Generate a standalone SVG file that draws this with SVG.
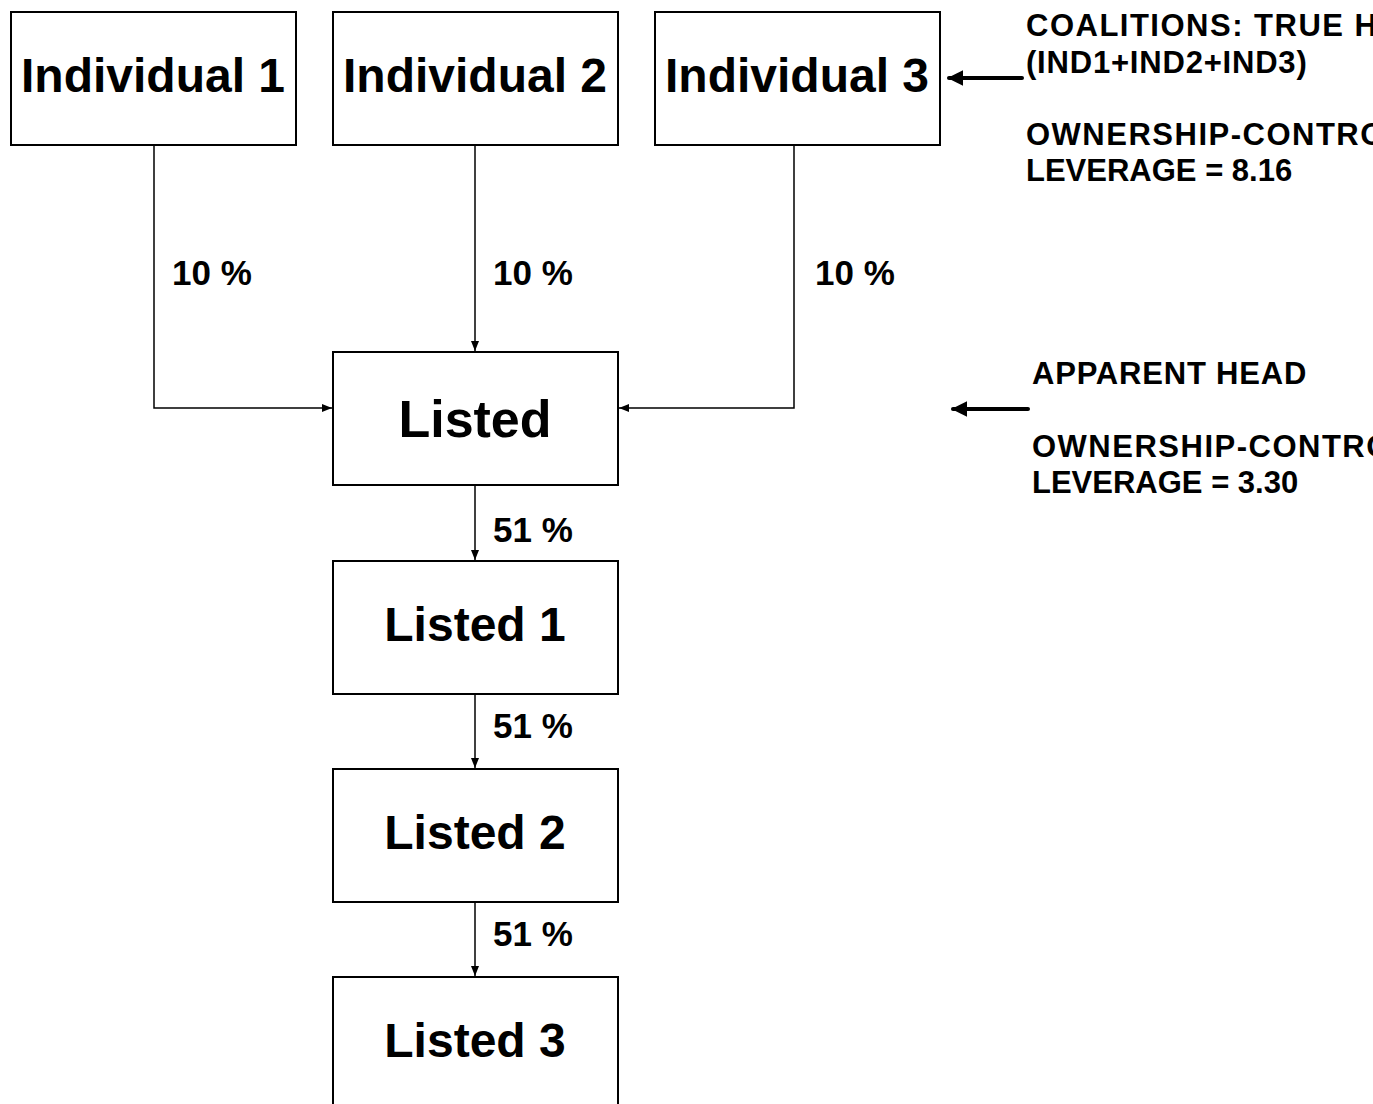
<svg xmlns="http://www.w3.org/2000/svg" width="1373" height="1104" viewBox="0 0 1373 1104">
<style>
.box{fill:#fff;stroke:#000;stroke-width:2}
.big{font-family:"Liberation Sans",Arial,sans-serif;font-weight:bold;font-size:48px;text-anchor:middle;fill:#000}
.pct{font-family:"Liberation Sans",Arial,sans-serif;font-weight:bold;font-size:35px;fill:#000}
.note{font-family:"Liberation Sans",Arial,sans-serif;font-weight:bold;font-size:31px;fill:#000}
.wide{letter-spacing:1.5px}
.mid{letter-spacing:0.8px}
.conn{fill:none;stroke:#000;stroke-width:1.5}
.thick{fill:none;stroke:#000;stroke-width:4;stroke-linecap:round}
</style>
<defs>
<marker id="ah" viewBox="0 0 10 10" refX="10" refY="5" markerWidth="10" markerHeight="10" markerUnits="userSpaceOnUse" orient="auto">
<path d="M0,1 L10,5 L0,9 Z" fill="#000"/>
</marker>
<marker id="ahb" viewBox="0 0 10 10" refX="9" refY="5" markerWidth="4" markerHeight="4" orient="auto">
<path d="M0,0 L10,5 L0,10 Z" fill="#000"/>
</marker>
</defs>
<rect width="1373" height="1104" fill="#fff"/>
<g id="connectors">
<path class="conn" d="M154,145 V408 H332" marker-end="url(#ah)"/>
<path class="conn" d="M475,145 V351" marker-end="url(#ah)"/>
<path class="conn" d="M794,145 V408 H619" marker-end="url(#ah)"/>
<path class="conn" d="M475,485 V560" marker-end="url(#ah)"/>
<path class="conn" d="M475,694 V768" marker-end="url(#ah)"/>
<path class="conn" d="M475,902 V976" marker-end="url(#ah)"/>
<path class="thick" d="M1022,78 H949" marker-end="url(#ahb)"/>
<path class="thick" d="M1028,409 H953" marker-end="url(#ahb)"/>
<text class="pct" x="172" y="285">10 %</text>
<text class="pct" x="493" y="285">10 %</text>
<text class="pct" x="815" y="285">10 %</text>
<text class="pct" x="493" y="542">51 %</text>
<text class="pct" x="493" y="738">51 %</text>
<text class="pct" x="493" y="946">51 %</text>
</g>
<g id="individual1"><rect class="box" x="11" y="12" width="285" height="133"/><text class="big" x="153" y="92">Individual 1</text></g>
<g id="individual2"><rect class="box" x="333" y="12" width="285" height="133"/><text class="big" x="475" y="92">Individual 2</text></g>
<g id="individual3"><rect class="box" x="655" y="12" width="285" height="133"/><text class="big" x="797" y="92">Individual 3</text></g>
<g id="listed"><rect class="box" x="333" y="352" width="285" height="133"/><text class="big" x="475" y="437" style="font-size:52px">Listed</text></g>
<g id="listed1"><rect class="box" x="333" y="561" width="285" height="133"/><text class="big" x="475" y="641">Listed 1</text></g>
<g id="listed2"><rect class="box" x="333" y="769" width="285" height="133"/><text class="big" x="475" y="849">Listed 2</text></g>
<g id="listed3"><rect class="box" x="333" y="977" width="285" height="140"/><text class="big" x="475" y="1057">Listed 3</text></g>
<g id="note-true-head">
<text class="note wide" x="1026" y="36">COALITIONS: TRUE HEAD</text>
<text class="note mid" x="1026" y="73">(IND1+IND2+IND3)</text>
<text class="note wide" x="1026" y="145">OWNERSHIP-CONTROL</text>
<text class="note" x="1026" y="181">LEVERAGE = 8.16</text>
</g>
<g id="note-apparent-head">
<text class="note mid" x="1032" y="384">APPARENT HEAD</text>
<text class="note wide" x="1032" y="457">OWNERSHIP-CONTROL</text>
<text class="note" x="1032" y="493">LEVERAGE = 3.30</text>
</g>
</svg>
